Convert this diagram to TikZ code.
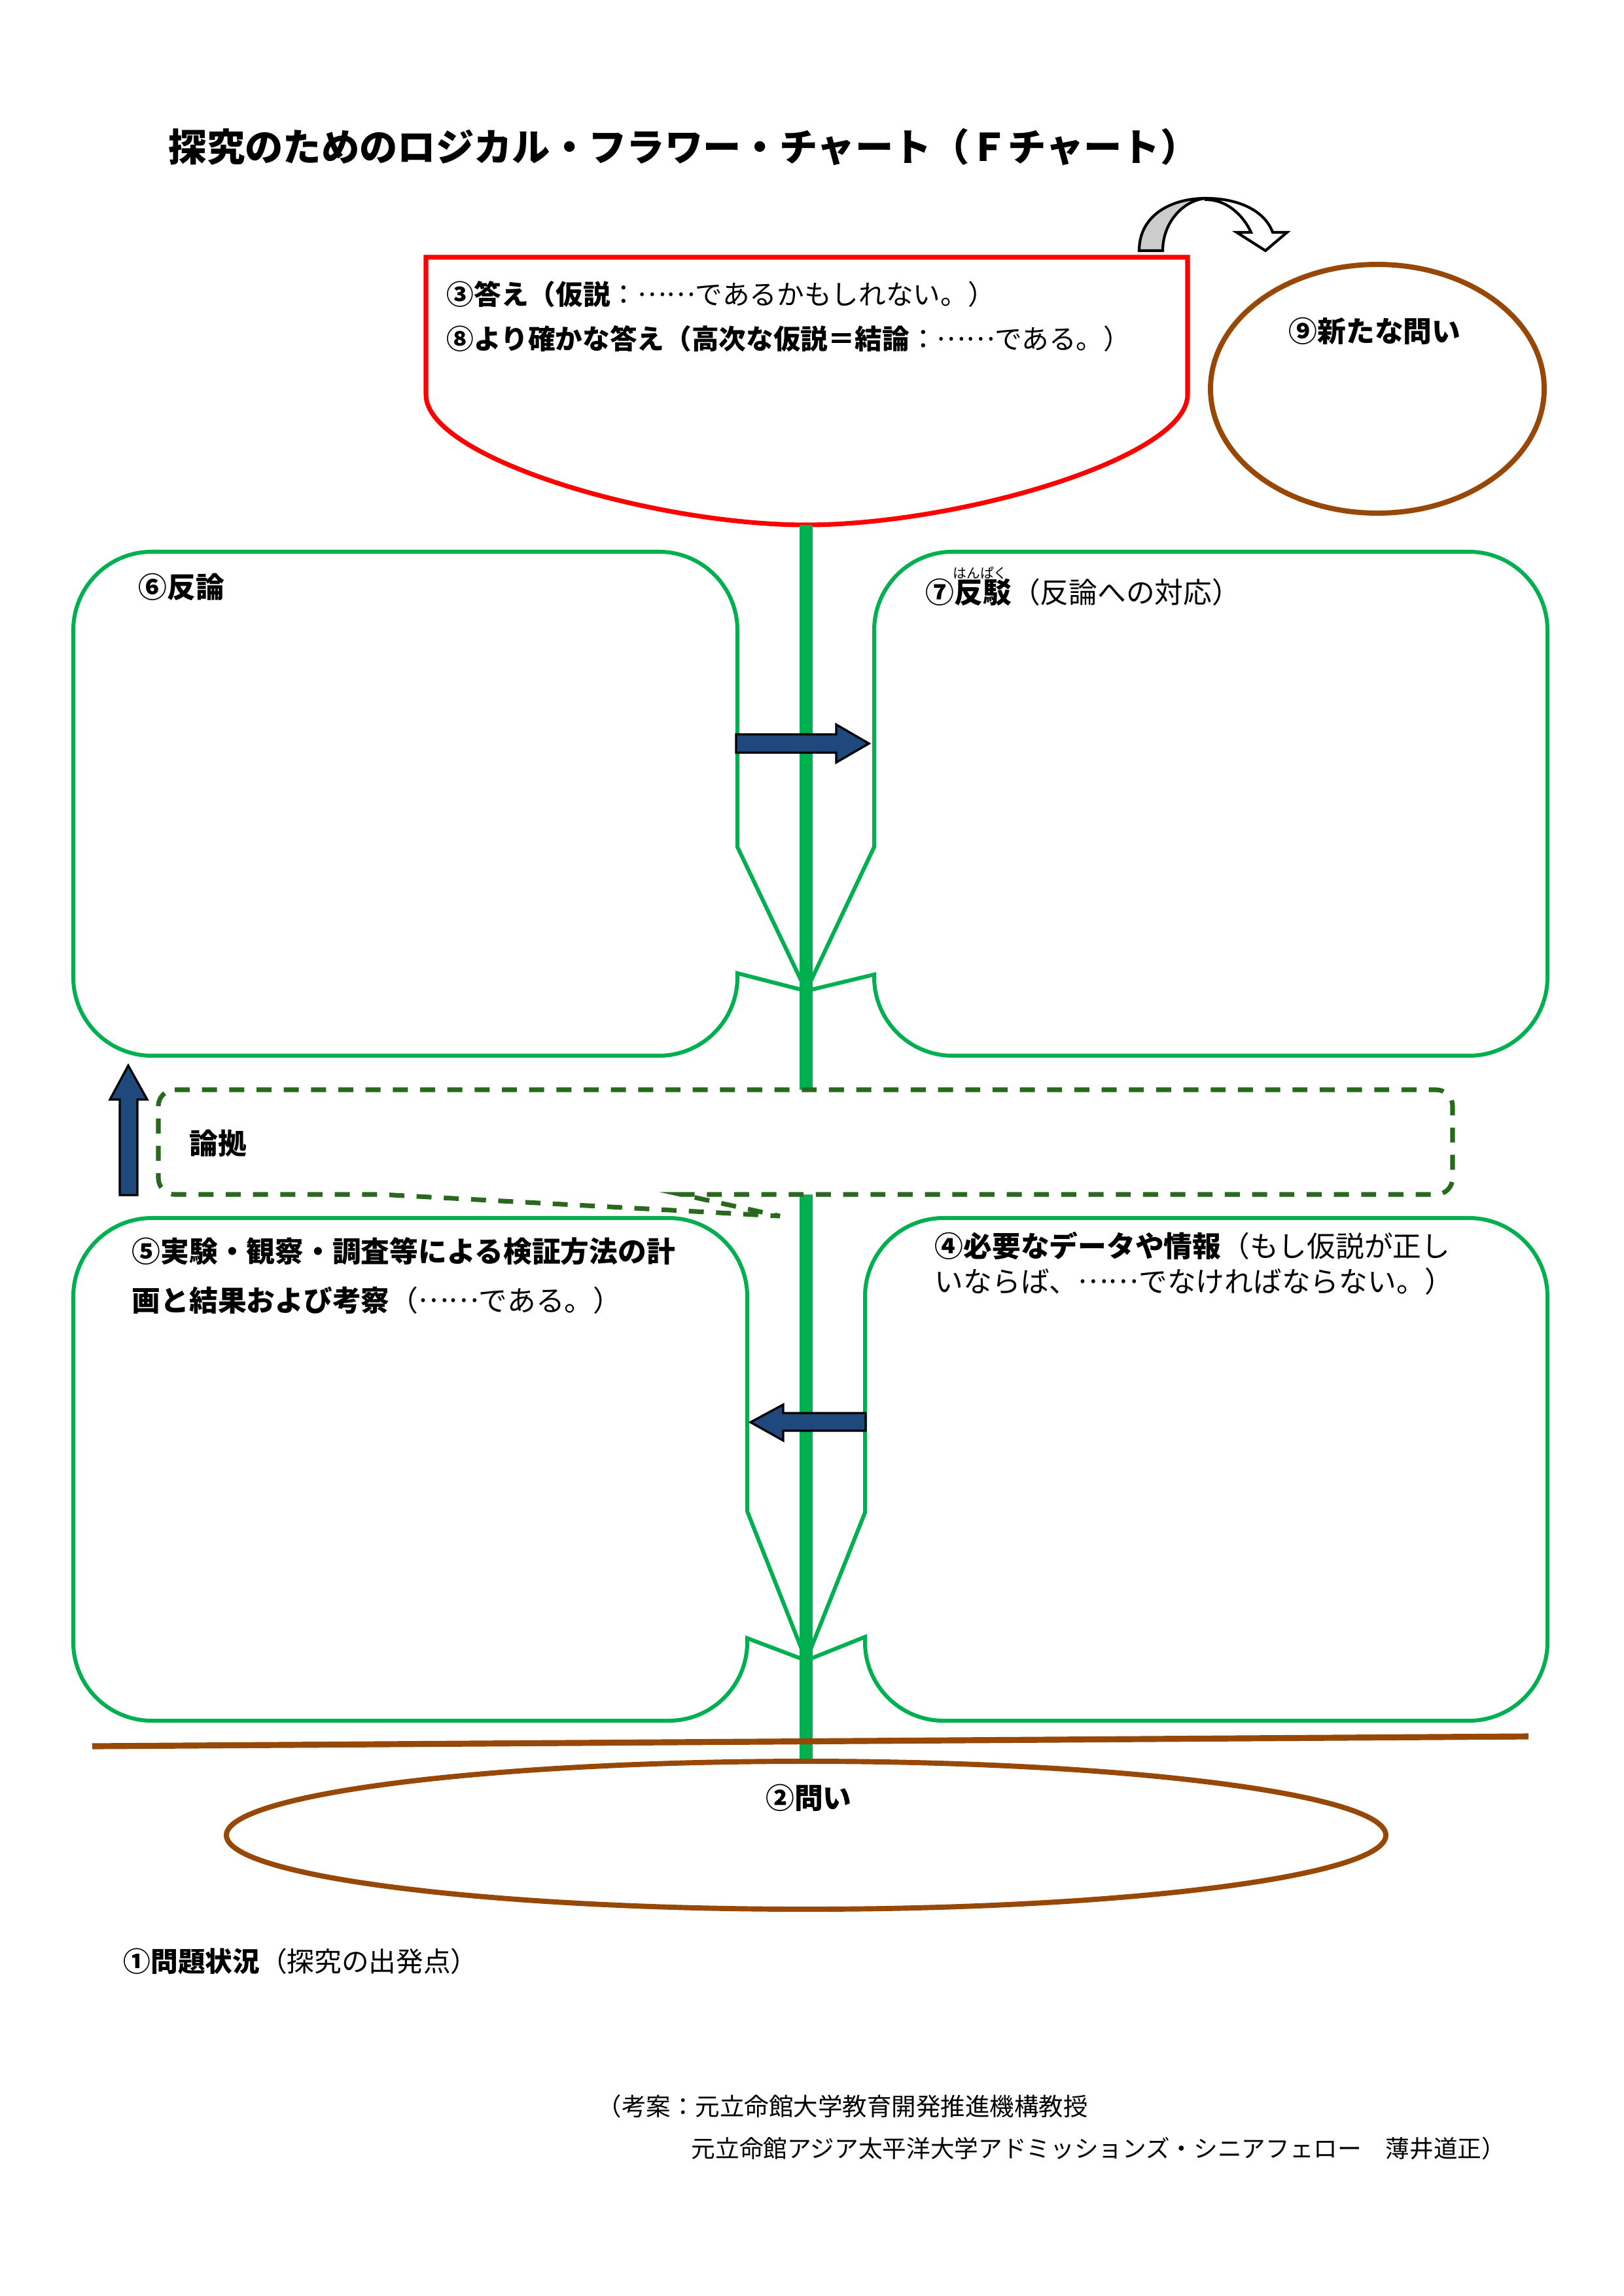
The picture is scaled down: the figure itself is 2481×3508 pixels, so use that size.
\documentclass[tikz,border=0pt]{standalone}
\usepackage{fontspec}
\setmainfont{Noto Sans CJK JP}
\usetikzlibrary{positioning}

\definecolor{leafgreen}{RGB}{0,176,80}
\definecolor{soilbrown}{RGB}{151,72,6}
\definecolor{notegreen}{RGB}{40,105,30}
\definecolor{arrowblue}{RGB}{31,73,125}
\definecolor{turngray}{RGB}{204,204,204}

\newcommand{\tenten}{\raisebox{0.33em}{……}}

\tikzset{
	leafbox/.style={draw=leafgreen, line width=1.45pt, fill=white},
	stem/.style={draw=leafgreen, line width=4.8pt},
	blockarrow/.style={draw=black, line width=0.8pt, fill=arrowblue, line join=miter},
	label/.style={inner sep=0pt, anchor=west, font=\fontsize{10.5}{12}\selectfont},
	small/.style={inner sep=0pt, anchor=west, font=\fontsize{9}{11}\selectfont}
}

\begin{document}
\begin{tikzpicture}[x=0.24pt, y=-0.24pt]
		
		\useasboundingbox (0,0) rectangle (2481,3508);
		
		\def\r{120} % corner radius of the leaves
		
		\coordinate (bloom) at (1232,802);
		\coordinate (root) at (1232,2691);
		\coordinate (tipTop) at (1232,1514);
		\coordinate (tipLow) at (1232,2537);
		
		% title
		\node[label, font=\fontsize{14}{16}\selectfont\bfseries] (title) at (257,225)
		{探究のためのロジカル・フラワー・チャート（Ｆチャート）};
		
		% turn arrow
		\draw[line width=1pt, fill=turngray] (1741,383) .. controls (1741,330) and (1788,303) .. (1843,303)
		.. controls (1808,306) and (1777,340) .. (1777,383) -- cycle;
		\draw[line width=1pt, fill=white, line join=miter] (1843,303) .. controls (1893,303) and (1933,322) .. (1945,355)
		-- (1967,355) -- (1934,383) -- (1890,355) -- (1912,355)
		.. controls (1898,325) and (1872,305) .. (1843,305) -- cycle;
		
		% flower
		\draw[draw=red, line width=1.7pt, fill=white] (651,603) -- (651,393) -- (1815,393) -- (1815,603)
		.. controls (1815,700) and (1464,802) .. (bloom) .. controls (1000,802) and (651,700) .. (651,603) -- cycle;
		\node[label, font=\fontsize{10}{12}\selectfont] (answer1) at (682,450)
		{\bfseries ③答え（仮説\mdseries：\tenten であるかもしれない。）};
		\node[label, font=\fontsize{10}{12}\selectfont] (answer2) at (682,518)
		{\bfseries ⑧より確かな答え（高次な仮説＝結論\mdseries：\tenten である。）};
		
		% new question
		\draw[soilbrown, line width=1.9pt] (2105,594) ellipse [x radius=255, y radius=190];
		\node[label, anchor=center, font=\fontsize{10.5}{12}\selectfont\bfseries] (newq) at (2101,506) {⑨新たな問い};
		
		% upper leaves
		\draw[leafbox] (232,843) -- (1007,843) arc[start angle=270, end angle=360, radius=\r]
		-- (1127,1294) -- (tipTop) -- (1127,1487) -- (1127,1493) arc[start angle=0, end angle=90, radius=\r]
		-- (232,1613) arc[start angle=90, end angle=180, radius=\r]
		-- (112,963) arc[start angle=180, end angle=270, radius=\r] -- cycle;
		\draw[leafbox] (1456,843) -- (2245,843) arc[start angle=270, end angle=360, radius=\r]
		-- (2365,1493) arc[start angle=0, end angle=90, radius=\r]
		-- (1456,1613) arc[start angle=90, end angle=180, radius=\r]
		-- (1336,1489) -- (tipTop) -- (1336,1294) -- (1336,963) arc[start angle=180, end angle=270, radius=\r] -- cycle;
		
		% lower leaves
		\draw[leafbox] (232,1861) -- (1022,1861) arc[start angle=270, end angle=360, radius=\r]
		-- (1142,2309) -- (tipLow) -- (1142,2503) -- (1142,2509) arc[start angle=0, end angle=90, radius=\r]
		-- (232,2629) arc[start angle=90, end angle=180, radius=\r]
		-- (112,1981) arc[start angle=180, end angle=270, radius=\r] -- cycle;
		\draw[leafbox] (1442,1861) -- (2245,1861) arc[start angle=270, end angle=360, radius=\r]
		-- (2365,2509) arc[start angle=0, end angle=90, radius=\r]
		-- (1442,2629) arc[start angle=90, end angle=180, radius=\r]
		-- (1322,2501) -- (tipLow) -- (1322,2311) -- (1322,1981) arc[start angle=180, end angle=270, radius=\r] -- cycle;
		
		% stem
		\draw[stem] (bloom) -- (root);
		
		% warrant callout
		\draw[notegreen, line width=1.7pt, dash pattern=on 5.5pt off 4.5pt, fill=white]
		(267,1665) -- (2195,1665) arc[start angle=270, end angle=360, radius=25]
		-- (2220,1800) arc[start angle=0, end angle=90, radius=25]
		-- (1041,1825) -- (1192,1858) -- (583,1825)
		-- (267,1825) arc[start angle=90, end angle=180, radius=25]
		-- (242,1690) arc[start angle=180, end angle=270, radius=25] -- cycle;
		\node[label, font=\fontsize{10.5}{12}\selectfont\bfseries] (basis) at (289,1747) {論拠};
		
		% block arrows
		\draw[blockarrow] (1125,1122) -- (1278,1122) -- (1278,1107) -- (1328,1136)
		-- (1278,1165) -- (1278,1150) -- (1125,1150) -- cycle;
		\draw[blockarrow] (1323,2159) -- (1197,2159) -- (1197,2146) -- (1147,2173)
		-- (1197,2201) -- (1197,2186) -- (1323,2186) -- cycle;
		\draw[blockarrow] (183,1826) -- (183,1680) -- (168,1680) -- (196,1628)
		-- (225,1680) -- (210,1680) -- (210,1826) -- cycle;
		
		% leaf texts
		\node[label, font=\fontsize{10.5}{12}\selectfont\bfseries] (rebut) at (211,897) {⑥反論};
		\node[label] (refute) at (1414,905) {\bfseries ⑦反駁\mdseries（反論への対応）};
		\node[inner sep=0pt, font=\fontsize{5}{6}\selectfont] (ruby) at (1498,875) {はんぱく};
		\node[label] (data1) at (1428,1903) {\bfseries ④必要なデータや情報\mdseries（もし仮説が正し};
		\node[label] (data2) at (1428,1958) {いならば、\tenten でなければならない。）};
		\node[label, font=\fontsize{10.5}{12}\selectfont\bfseries] (method1) at (201,1912) {⑤実験・観察・調査等による検証方法の計};
		\node[label] (method2) at (201,1987) {\bfseries 画と結果および考察\mdseries（\tenten である。）};
		
		% ground and root
		\coordinate (groundW) at (141,2668);
		\coordinate (groundE) at (2336,2653);
		\draw[soilbrown, line width=2.2pt] (groundW) -- (groundE);
		\draw[soilbrown, line width=1.9pt] (1232,2804) ellipse [x radius=886, y radius=113];
		\node[label, anchor=center, font=\fontsize{10.5}{12}\selectfont\bfseries] (question) at (1236,2747) {②問い};
		
		\node[label, font=\fontsize{10}{12}\selectfont] (problem) at (188,2997) {\bfseries ①問題状況\mdseries（探究の出発点）};
		
		% credit
		\node[small] (credit1) at (912,3218) {（考案：元立命館大学教育開発推進機構教授};
		\node[small, font=\fontsize{8.8}{11}\selectfont] (credit2) at (1056,3283) {元立命館アジア太平洋大学アドミッションズ・シニアフェロー　薄井道正）};
	\end{tikzpicture}
\end{document}
